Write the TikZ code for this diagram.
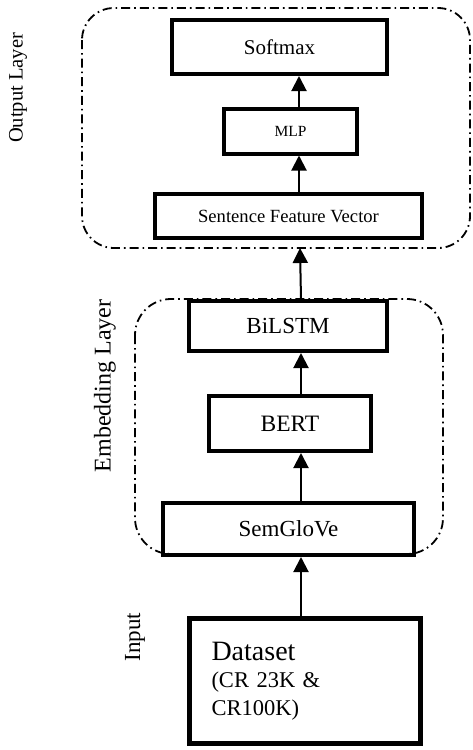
\documentclass[tikz,border=0pt]{standalone}
\usepackage{fontspec}
\setmainfont{Liberation Serif}
\usepackage{tikz}
\usetikzlibrary{arrows.meta}

\begin{document}
\begin{tikzpicture}[x=1pt, y=-1pt,
    box/.style={draw, line width=4pt, minimum width=#1, inner sep=0pt, align=center},
    layer/.style={draw, line width=1.8pt, rounded corners=32pt, dash pattern=on 9pt off 4pt on 1.6pt off 4pt},
    lbl/.style={rotate=90, inner sep=0pt},
    arrow/.style={draw, line width=2pt, -{Triangle[length=15pt, width=15pt]}}
]
    \useasboundingbox (0,0) rectangle (472,750);

    % containers
    \draw[layer] (82,8) rectangle (470,248);
    \coordinate (outlayer) at (300,248);
    \draw[layer, rounded corners=36pt] (135,299) rectangle (443,554);

    % output layer
    \node[box=215pt, minimum height=54pt, font=\fontsize{21}{24}\selectfont] (softmax) at (279.5,47) {Softmax};
    \node[box=133pt, minimum height=45pt, font=\fontsize{15.5}{18}\selectfont] (mlp) at (290.5,131) {MLP};
    \node[box=267pt, minimum height=44pt, font=\fontsize{18.6}{22}\selectfont] (sfv) at (288.5,216) {Sentence Feature Vector};

    % embedding layer
    \node[box=198pt, minimum height=50pt, font=\fontsize{23}{26}\selectfont] (bilstm) at (288,326) {BiLSTM};
    \node[box=162pt, minimum height=55pt, font=\fontsize{23.5}{26}\selectfont] (bert) at (290,423.5) {BERT};
    \node[box=251pt, minimum height=52pt, font=\fontsize{23}{26}\selectfont] (semglove) at (288.5,529) {SemGloVe};

    % input
    \node[box=231pt, line width=5pt, minimum height=125pt, inner xsep=22pt, text width=187pt, align=left,
          font=\fontsize{22.5}{28}\selectfont] (dataset) at (305,681)
          {{\fontsize{28}{30}\selectfont Dataset}\\[-1pt](CR 23K \&\\CR100K)};

    % side labels
    \node[lbl, font=\fontsize{20.5}{24}\selectfont] (outlbl) at (18,88) {Output Layer};
    \node[lbl, font=\fontsize{24}{28}\selectfont] (emblbl) at (105,386) {Embedding Layer};
    \node[lbl, font=\fontsize{23}{26}\selectfont] (inlbl) at (135,637) {Input};

    % arrows
    \coordinate (ax) at (301,0);
    \draw[arrow] (dataset.north -| ax) -- (semglove.south -| ax);
    \draw[arrow] (semglove.north -| ax) -- (bert.south -| ax);
    \draw[arrow] (bert.north -| ax) -- (bilstm.south -| ax);
    \draw[arrow] (bilstm.north -| ax) -- (outlayer);
    \draw[arrow] ([xshift=-2pt]sfv.north -| ax) -- ([xshift=-2pt]mlp.south -| ax);
    \draw[arrow] ([xshift=-2pt]mlp.north -| ax) -- ([xshift=-2pt]softmax.south -| ax);

\end{tikzpicture}
\end{document}
